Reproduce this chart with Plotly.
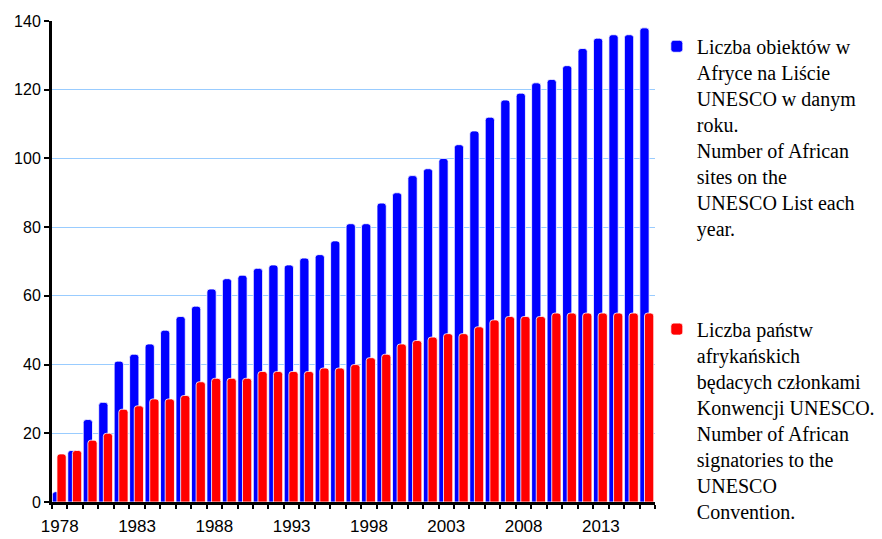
import plotly.graph_objects as go

years = list(range(1978, 2017))
sites = [3, 15, 24, 29, 41, 43, 46, 50, 54, 57, 62, 65, 66, 68, 69, 69, 71, 72, 76, 81,
         81, 87, 90, 95, 97, 100, 104, 108, 112, 117, 119, 122, 123, 127, 132, 135, 136, 136, 138]
states = [14, 15, 18, 20, 27, 28, 30, 30, 31, 35, 36, 36, 36, 38, 38, 38, 38, 39, 39, 40,
          42, 43, 46, 47, 48, 49, 49, 51, 53, 54, 54, 54, 55, 55, 55, 55, 55, 55, 55]
tick_years = [1978, 1983, 1988, 1993, 1998, 2003, 2008, 2013]
y_ticks = [0, 20, 40, 60, 80, 100, 120, 140]

name_sites = ("Liczba obiektów w<br>Afryce na Liście<br>UNESCO w danym<br>roku.<br>"
              "Number of African<br>sites on the<br>UNESCO List each<br>year.")
name_states = ("Liczba państw<br>afrykańskich<br>będacych członkami<br>Konwencji UNESCO.<br>"
               "Number of African<br>signatories to the<br>UNESCO<br>Convention.")

fig = go.Figure()
fig.add_trace(go.Bar(x=years, y=sites, name=name_sites, width=0.6, offset=-0.48,
                     marker=dict(color="#0000FF", line=dict(color="white", width=0.8)),
                     legend="legend"))
fig.add_trace(go.Bar(x=years, y=states, name=name_states, width=0.6, offset=-0.18,
                     marker=dict(color="#FF0000", line=dict(color="white", width=0.8)),
                     legend="legend2"))

legend_common = dict(font=dict(family="Liberation Serif", size=20, color="black"),
                     valign="top", itemwidth=30, xanchor="left", yanchor="top",
                     bgcolor="rgba(0,0,0,0)", tracegroupgap=0)

# page body has an 8px margin, so the figure is sized to fit the 882x539 window
fig.update_layout(
    width=874, height=531,
    margin=dict(l=44, r=227, t=13, b=37, autoexpand=False),
    paper_bgcolor="white", plot_bgcolor="white",
    barmode="overlay", barcornerradius=3,
    font=dict(family="Liberation Sans", size=16, color="black"),
    legend=dict(x=1.003, y=0.988, **legend_common),
    legend2=dict(x=1.003, y=0.4, **legend_common),
    showlegend=True,
)
fig.update_xaxes(
    range=[1977.5, 2016.5], tickvals=tick_years, ticktext=[str(t) for t in tick_years],
    ticks="outside", ticklen=0, ticklabelstandoff=7, automargin=False,
    minor=dict(ticks="outside", tick0=1977.5, dtick=1, ticklen=4, tickwidth=2, tickcolor="black"),
    showline=True, linecolor="black", linewidth=3, showgrid=False, zeroline=False,
    tickfont=dict(family="Liberation Sans", size=17),
)
fig.update_yaxes(
    range=[0, 140], tickvals=y_ticks, ticks="outside", ticklen=5, tickwidth=2, tickcolor="black",
    showline=True, linecolor="black", linewidth=3, automargin=False,
    showgrid=True, gridcolor="#99CCFF", gridwidth=1.2, zeroline=False,
    tickfont=dict(family="Liberation Sans", size=16),
)

fig.write_html("out.html")
